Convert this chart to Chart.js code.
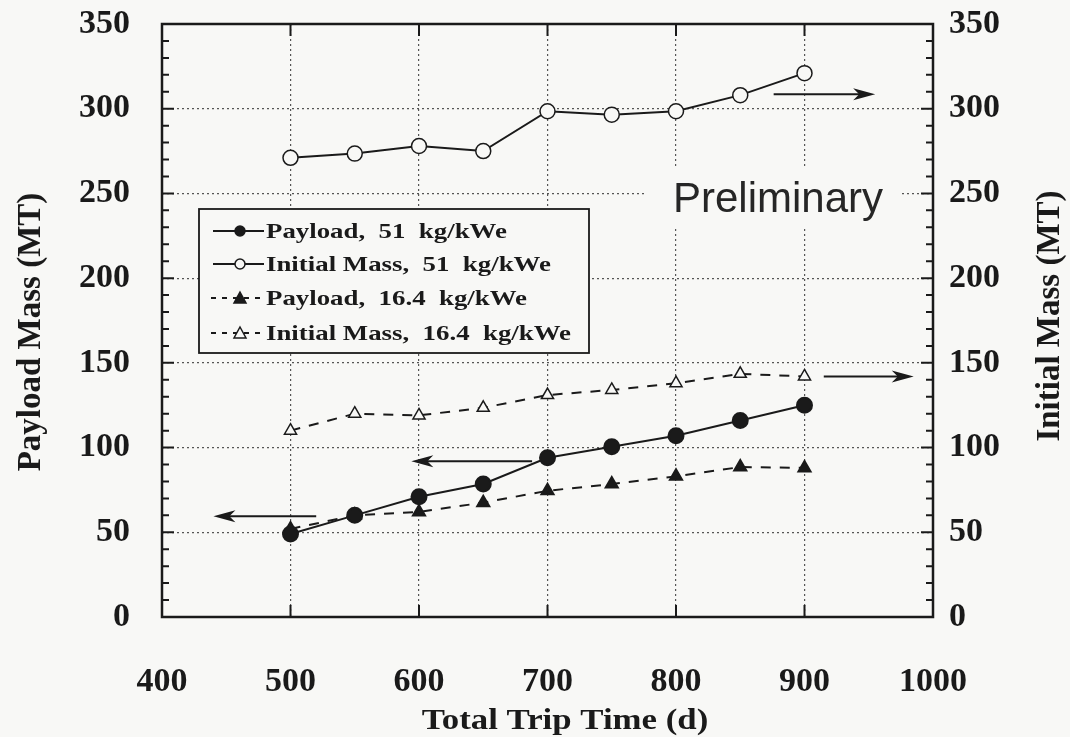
<!DOCTYPE html>
<html>
<head>
<meta charset="utf-8">
<script src="https://cdn.jsdelivr.net/npm/chart.js@4/dist/chart.umd.min.js"></script>
<style>
  html, body { margin: 0; padding: 0; background: #f8f8f6; }
  #wrap { width: 1070px; height: 737px; }
</style>
</head>
<body>
<div id="wrap"><canvas id="grafico" width="1070" height="737"></canvas></div>
<script>
// Datos: tiempo total de viaje (d) frente a masa (MT)
const tiempoViaje = [500, 550, 600, 650, 700, 750, 800, 850, 900];
const carga51 = [49, 60, 71, 78.5, 94, 100.5, 107, 116, 125];
const masaInicial51 = [271, 273.5, 278, 275, 298.5, 296.5, 298.5, 308, 321];
const carga164 = [52, 60, 62, 67.5, 74.5, 78.5, 83, 88.5, 88];
const masaInicial164 = [110, 120, 119, 123.5, 131, 134, 138, 143.5, 142];

const ticksX = [400, 500, 600, 700, 800, 900, 1000];
const ticksY = [0, 50, 100, 150, 200, 250, 300, 350];

const etiquetas = [
    "Payload,  51  kg/kWe",
    "Initial Mass,  51  kg/kWe",
    "Payload,  16.4  kg/kWe",
    "Initial Mass,  16.4  kg/kWe"
];

// Flechas que indican el eje de cada curva: [x0, y0, x1, y1] en unidades de datos
const flechas = [
    [876, 308.5, 955, 308.5],
    [915, 142, 985, 142],
    [688, 92, 594, 92],
    [520, 59.5, 440, 59.5]
];

const tinta = "#1a1a1a";
const fondo = "#f8f8f6";
const serif = "'Liberation Serif', 'DejaVu Serif', serif";
const sans = "'Liberation Sans', Arial, sans-serif";

function puntos(ys) {
    return tiempoViaje.map((x, i) => ({ x, y: ys[i] }));
}

const datasets = [
    {
        label: etiquetas[0], data: puntos(carga51), yAxisID: "y",
        borderColor: tinta, borderWidth: 2, pointStyle: "circle",
        pointRadius: 7.5, pointBackgroundColor: tinta, pointBorderColor: tinta
    },
    {
        label: etiquetas[1], data: puntos(masaInicial51), yAxisID: "y2",
        borderColor: tinta, borderWidth: 2, pointStyle: "circle",
        pointRadius: 7.5, pointBackgroundColor: fondo, pointBorderColor: tinta, pointBorderWidth: 1.5
    },
    {
        label: etiquetas[2], data: puntos(carga164), yAxisID: "y",
        borderColor: tinta, borderWidth: 2, borderDash: [10, 9], pointStyle: "triangle",
        pointRadius: 7, pointBackgroundColor: tinta, pointBorderColor: tinta
    },
    {
        label: etiquetas[3], data: puntos(masaInicial164), yAxisID: "y2",
        borderColor: tinta, borderWidth: 2, borderDash: [10, 9], pointStyle: "triangle",
        pointRadius: 7, pointBackgroundColor: fondo, pointBorderColor: tinta, pointBorderWidth: 1.5
    }
];

// texto estirado en horizontal
function textoAncho(ctx, txt, x, y, escala) {
    ctx.save();
    ctx.translate(x, y);
    ctx.scale(escala, 1);
    ctx.fillText(txt, 0, 0);
    ctx.restore();
}

// Recuadros del fondo de la leyenda y de "Preliminary" encima de la rejilla
const fondoCajas = {
    id: "fondoCajas",
    beforeDatasetsDraw(chart) {
        const ctx = chart.ctx;
        ctx.save();
        ctx.fillStyle = fondo;
        ctx.fillRect(199, 209, 390, 144);
        ctx.fillRect(645, 166, 255, 62);
        ctx.restore();
    }
};

function dibujarFlecha(ctx, x0, y0, x1, y1) {
    const dir = Math.sign(x1 - x0);
    ctx.beginPath();
    ctx.moveTo(x0, y0);
    ctx.lineTo(x1 - dir * 10, y1);
    ctx.stroke();
    ctx.beginPath();
    ctx.moveTo(x1, y1);
    ctx.lineTo(x1 - dir * 22, y1 - 6);
    ctx.lineTo(x1 - dir * 16, y1);
    ctx.lineTo(x1 - dir * 22, y1 + 6);
    ctx.closePath();
    ctx.fill();
}

const marco = {
    id: "marco",
    afterDatasetsDraw(chart) {
        const ctx = chart.ctx;
        const { left, right, top, bottom } = chart.chartArea;
        const sx = chart.scales.x, sy = chart.scales.y;
        ctx.save();
        ctx.strokeStyle = tinta;
        ctx.fillStyle = tinta;

        // marcas menores cada 10 en ambos ejes verticales
        ctx.lineWidth = 2;
        for (let v = 0; v <= 350; v += 10) {
            const py = sy.getPixelForValue(v);
            const largo = v % 50 === 0 ? 12 : 7;
            ctx.beginPath();
            ctx.moveTo(left, py); ctx.lineTo(left + largo, py);
            ctx.moveTo(right, py); ctx.lineTo(right - largo, py);
            ctx.stroke();
        }
        ticksX.forEach(v => {
            const px = sx.getPixelForValue(v);
            ctx.beginPath();
            ctx.moveTo(px, bottom); ctx.lineTo(px, bottom - 12);
            ctx.moveTo(px, top); ctx.lineTo(px, top + 12);
            ctx.stroke();
        });

        ctx.lineWidth = 2.5;
        ctx.strokeRect(left, top, right - left, bottom - top);

        // flechas
        ctx.lineWidth = 2;
        flechas.forEach(f => {
            const eje = f[0] > 850 ? chart.scales.y2 : sy;
            dibujarFlecha(ctx,
                sx.getPixelForValue(f[0]), eje.getPixelForValue(f[1]),
                sx.getPixelForValue(f[2]), eje.getPixelForValue(f[3]));
        });

        // texto "Preliminary"
        ctx.font = "42px " + sans;
        ctx.textAlign = "right";
        ctx.textBaseline = "alphabetic";
        ctx.fillStyle = "#262626";
        ctx.fillText("Preliminary", 883, 212);

        // leyenda
        ctx.lineWidth = 1.8;
        ctx.strokeRect(199, 209, 390, 144);
        ctx.font = "bold 22px " + serif;
        ctx.textAlign = "left";
        ctx.textBaseline = "middle";
        const filasY = [231, 264, 298, 333];
        chart.data.datasets.forEach((ds, i) => {
            const y = filasY[i];
            ctx.strokeStyle = tinta;
            ctx.lineWidth = 2;
            ctx.setLineDash(ds.borderDash ? [5, 6] : []);
            ctx.beginPath();
            ctx.moveTo(ds.borderDash ? 211 : 213, y);
            ctx.lineTo(264, y);
            ctx.stroke();
            ctx.setLineDash([]);
            ctx.fillStyle = ds.pointBackgroundColor;
            ctx.lineWidth = 1.5;
            ctx.beginPath();
            if (ds.pointStyle === "circle") {
                ctx.arc(240, y, 5, 0, Math.PI * 2);
            } else {
                ctx.moveTo(240, y - 6);
                ctx.lineTo(246, y + 5);
                ctx.lineTo(234, y + 5);
                ctx.closePath();
            }
            ctx.fill();
            ctx.stroke();
            ctx.fillStyle = tinta;
            textoAncho(ctx, ds.label, 266, y + 1, 1.22);
        });

        // títulos de ejes
        ctx.textAlign = "center";
        ctx.textBaseline = "alphabetic";
        ctx.font = "bold 30px " + serif;
        textoAncho(ctx, "Total Trip Time (d)", 565, 729, 1.16);
        ctx.textBaseline = "middle";
        ctx.font = "bold 33px " + serif;
        ctx.save();
        ctx.translate(31, 332);
        ctx.rotate(-Math.PI / 2);
        ctx.fillText("Payload Mass (MT)", 0, 0);
        ctx.restore();
        ctx.save();
        ctx.translate(1050, 316);
        ctx.rotate(-Math.PI / 2);
        ctx.fillText("Initial Mass (MT)", 0, 0);
        ctx.restore();

        ctx.restore();
    }
};

const fuenteTicks = { family: serif, size: 34, weight: "bold" };
const sinRelleno = s => { s.paddingTop = 0; s.paddingBottom = 0; };

new Chart(document.getElementById("grafico"), {
    type: "line",
    data: { datasets },
    plugins: [fondoCajas, marco],
    options: {
        responsive: false,
        animation: false,
        layout: { padding: { top: 24, right: 0, bottom: 0, left: 0 } },
        plugins: { legend: { display: false }, tooltip: { enabled: false } },
        scales: {
            x: {
                type: "linear", min: 400, max: 1000,
                afterBuildTicks: s => { s.ticks = ticksX.map(v => ({ value: v })); },
                afterFit: s => { s.height = 120; s.paddingLeft = 0; s.paddingRight = 0; },
                ticks: { color: tinta, font: fuenteTicks, padding: 45, maxRotation: 0, callback: v => String(v) },
                grid: { color: "#555", lineWidth: 1.2, drawTicks: false },
                border: { display: false, dash: [2, 3] }
            },
            y: {
                position: "left", min: 0, max: 350,
                afterBuildTicks: s => { s.ticks = ticksY.map(v => ({ value: v })); },
                afterFit: s => { s.width = 162; sinRelleno(s); },
                ticks: { color: tinta, font: fuenteTicks, padding: 32 },
                grid: { color: "#555", lineWidth: 1.2, drawTicks: false },
                border: { display: false, dash: [2, 3] }
            },
            y2: {
                position: "right", min: 0, max: 350,
                afterBuildTicks: s => { s.ticks = ticksY.map(v => ({ value: v })); },
                afterFit: s => { s.width = 137; sinRelleno(s); },
                ticks: { color: tinta, font: fuenteTicks, padding: 16 },
                grid: { display: false, drawTicks: false },
                border: { display: false }
            }
        }
    }
});
</script>
</body>
</html>
